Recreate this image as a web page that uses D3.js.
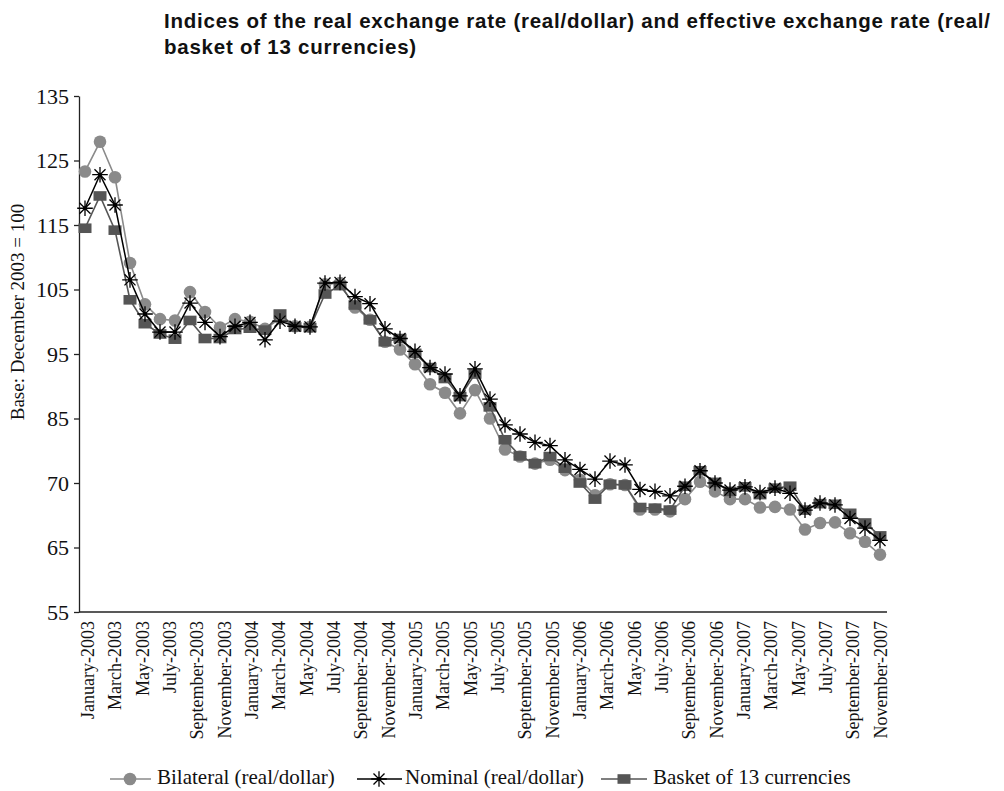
<!DOCTYPE html>
<html>
<head>
<meta charset="utf-8">
<script src="https://cdn.jsdelivr.net/npm/d3@7"></script>
<style>
  html, body { margin: 0; padding: 0; background: #fff; }
  svg { display: block; }
</style>
</head>
<body>
<svg id="chart" width="1004" height="791"></svg>
<script>
// ---------- data ----------
const monthLabels = [
  "January-2003","March-2003","May-2003","July-2003","September-2003","November-2003",
  "January-2004","March-2004","May-2004","July-2004","September-2004","November-2004",
  "January-2005","March-2005","May-2005","July-2005","September-2005","November-2005",
  "January-2006","March-2006","May-2006","July-2006","September-2006","November-2006",
  "January-2007","March-2007","May-2007","July-2007","September-2007","November-2007"
];

const bilateral = [
  123.3,127.9,122.4,109.1,102.7,100.4,100.2,104.6,101.5,99.1,
  100.4,100.0,98.9,100.5,99.3,99.2,105.8,106.0,102.2,100.3,
  96.9,95.7,93.4,90.3,89.0,85.8,89.4,85.0,80.2,79.1,
  78.0,78.6,77.0,75.5,73.1,74.8,74.7,70.9,70.9,70.6,
  72.5,75.2,73.7,72.5,72.5,71.2,71.3,70.9,67.8,68.8,
  68.9,67.2,65.9,63.9
];

const nominal = [
  117.6,122.8,118.1,106.5,101.2,98.4,98.4,102.9,99.9,97.7,
  99.3,99.9,97.2,100.1,99.3,99.2,106.0,106.1,103.9,102.8,
  98.9,97.4,95.4,92.9,91.9,88.5,92.7,88.0,84.0,82.6,
  81.3,80.8,78.6,77.1,75.6,78.4,77.8,74.0,73.7,73.0,
  74.5,76.9,75.0,73.9,74.4,73.5,74.2,73.4,70.8,71.9,
  71.6,69.5,68.0,66.1
];

const basket = [
  114.5,119.5,114.2,103.4,99.7,98.1,97.3,100.2,97.4,97.4,
  98.8,99.0,98.7,101.2,99.2,99.1,104.3,105.6,102.6,100.3,
  96.9,97.4,95.1,92.9,91.2,88.4,91.9,86.8,81.7,79.2,
  78.0,79.1,77.3,75.0,72.5,74.8,74.7,71.2,71.1,70.8,
  74.5,76.9,75.1,73.7,74.4,73.2,74.2,74.5,70.8,71.8,
  71.7,70.3,68.8,66.8
];

const yTickValues = [135,125,115,105,95,85,75,65,55];
const yTickLabels = ["135","125","115","105","95","85","70","65","55"];

const seriesNames = ["Bilateral (real/dollar)","Nominal (real/dollar)","Basket of 13 currencies"];

const titleLines = [
  "Indices of the real exchange rate (real/dollar) and effective exchange rate (real/",
  "basket of 13 currencies)"
];
const yAxisTitle = "Base: December 2003 = 100";

// ---------- layout ----------
const svg = d3.select("#chart");
const serif = "'Liberation Serif','Times New Roman',serif";
const plotL = 79, plotR = 887, plotT = 96, plotB = 612;

const x = d3.scalePoint().domain(d3.range(bilateral.length)).range([85, 880]);
const xLab = d3.scalePoint().domain(monthLabels).range([87, 880]);
const y = d3.scaleLinear().domain([55, 135]).range([plotB, plotT]);

// title
const tt = svg.append("g")
  .attr("font-family", "'Liberation Sans',Arial,Helvetica,sans-serif")
  .attr("font-weight", "bold").attr("font-size", 20.5).attr("fill", "#111");
const t1 = tt.append("text").attr("x", 164).attr("y", 28).text(titleLines[0]);
const t2 = tt.append("text").attr("x", 164).attr("y", 54).text(titleLines[1]);
{
  const natural = t1.node().getComputedTextLength();
  const target = 990 - 164;
  const ls = (target - natural) / (titleLines[0].length - 1);
  t1.attr("letter-spacing", ls);
  t2.attr("letter-spacing", ls);
}

// y axis
const yAxis = d3.axisLeft(y).tickValues(yTickValues)
  .tickFormat((d, i) => yTickLabels[i]).tickSize(5).tickSizeOuter(0);
const gy = svg.append("g").attr("transform", `translate(${plotL},0)`).call(yAxis);
gy.select(".domain").attr("stroke", "#222").attr("stroke-width", 1.3);
gy.selectAll(".tick line").attr("stroke", "#222").attr("stroke-width", 1.3);
gy.selectAll(".tick text").attr("font-family", serif).attr("font-size", 22)
  .attr("fill", "#111").attr("x", -10).attr("dy", "0.34em");

// x axis
const xAxis = d3.axisBottom(xLab).tickSize(0).tickSizeOuter(0);
const gx = svg.append("g").attr("transform", `translate(0,${plotB})`).call(xAxis);
gx.select(".domain").attr("d", `M${plotL},0H${plotR}`).attr("stroke", "#222").attr("stroke-width", 1.3);
gx.selectAll(".tick text")
  .attr("font-family", serif).attr("font-size", 18).attr("fill", "#111")
  .attr("transform", "rotate(-90)")
  .attr("text-anchor", "end")
  .attr("x", -9).attr("y", 0).attr("dy", "0.35em");

// y axis title
svg.append("text")
  .attr("transform", `translate(24,312) rotate(-90)`)
  .attr("text-anchor", "middle")
  .attr("font-family", serif).attr("font-size", 19).attr("fill", "#111")
  .text(yAxisTitle);

// ---------- series ----------
const line = d3.line().x((d, i) => x(i)).y(d => y(d));
const cGray = "#8a8a8a", cDark = "#555555", cBlack = "#000000";

function starPath(r) {
  const a = r * Math.SQRT1_2;
  return `M0,${-r}V${r}M${-r},0H${r}M${-a},${-a}L${a},${a}M${-a},${a}L${a},${-a}`;
}

function drawCircles(g, cx, cy) {
  g.append("circle").attr("cx", cx).attr("cy", cy).attr("r", 6.3).attr("fill", cGray);
}
function drawSquare(g, cx, cy) {
  g.append("rect").attr("x", cx - 6.5).attr("y", cy - 4.8).attr("width", 13).attr("height", 9.6).attr("fill", cDark);
}
function drawStar(g, cx, cy) {
  g.append("path").attr("transform", `translate(${cx},${cy})`).attr("d", starPath(7.8))
    .attr("stroke", cBlack).attr("stroke-width", 1.3).attr("fill", "none");
  g.append("circle").attr("cx", cx).attr("cy", cy).attr("r", 2).attr("fill", cBlack);
}

// bilateral
const g1 = svg.append("g");
g1.append("path").datum(bilateral).attr("d", line).attr("fill", "none").attr("stroke", cGray).attr("stroke-width", 1.6);
bilateral.forEach((v, i) => drawCircles(g1, x(i), y(v)));

// basket
const g3 = svg.append("g");
g3.append("path").datum(basket).attr("d", line).attr("fill", "none").attr("stroke", cDark).attr("stroke-width", 1.6);
basket.forEach((v, i) => drawSquare(g3, x(i), y(v)));

// nominal
const g2 = svg.append("g");
g2.append("path").datum(nominal).attr("d", line).attr("fill", "none").attr("stroke", cBlack).attr("stroke-width", 1.5);
nominal.forEach((v, i) => drawStar(g2, x(i), y(v)));

// ---------- legend ----------
const leg = svg.append("g").attr("font-family", serif).attr("font-size", 21).attr("fill", "#111");
const legY = 779;
const legItems = [
  {x0: 110, x1: 151, mx: 130, color: cGray, mark: drawCircles, tx: 157},
  {x0: 357, x1: 402, mx: 379, color: cBlack, mark: drawStar, tx: 405},
  {x0: 601, x1: 647, mx: 624, color: cDark, mark: drawSquare, tx: 653}
];
legItems.forEach((it, i) => {
  leg.append("line").attr("x1", it.x0).attr("x2", it.x1).attr("y1", legY).attr("y2", legY)
    .attr("stroke", it.color).attr("stroke-width", 1.6);
  it.mark(leg, it.mx, legY);
  leg.append("text").attr("x", it.tx).attr("y", 784).text(seriesNames[i]);
});
</script>
</body>
</html>
